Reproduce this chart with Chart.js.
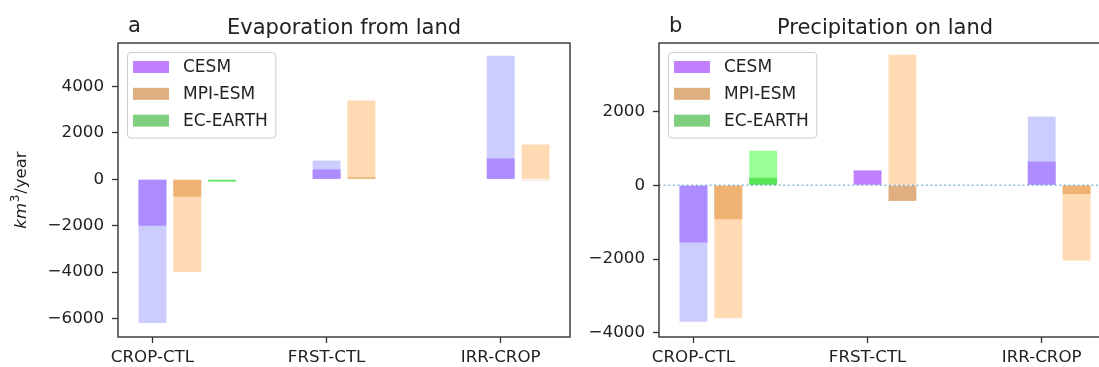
<!DOCTYPE html>
<html>
<head>
<meta charset="utf-8">
<script src="https://cdn.jsdelivr.net/npm/chart.js@4.4.1/dist/chart.umd.min.js"></script>
<style>
  html, body { margin: 0; padding: 0; background: #fff; overflow: hidden; }
  #wrap { position: relative; width: 1099px; height: 367px; overflow: hidden; }
  canvas { position: absolute; top: 0; }
  #evap { left: 0; }
  #precip { left: 541px; }
</style>
</head>
<body>
<div id="wrap">
  <canvas id="evap" width="590" height="367"></canvas>
  <canvas id="precip" width="590" height="367"></canvas>
</div>
<script>
var categories = ["CROP-CTL", "FRST-CTL", "IRR-CROP"];
var models = ["CESM", "MPI-ESM", "EC-EARTH"];

// evaporation from land, km3/year (dark bars, then the light bars over them)
var evapCESM = [-2000, 430, 900];
var evapMPI = [-750, 90, -40];
var evapEC = [-90, null, null];
var evapCESMlight = [-6200, 810, 5330];
var evapMPIlight = [-4000, 3400, 1500];
var evapEClight = [-90, null, null];

// precipitation on land, km3/year
var precCESM = [-1550, 400, 640];
var precMPI = [-920, -425, -240];
var precEC = [200, null, null];
var precCESMlight = [-3700, 0, 1860];
var precMPIlight = [-3600, 3530, -2040];
var precEClight = [930, null, null];

var evapTicks = [-6000, -4000, -2000, 0, 2000, 4000];
var precTicks = [-4000, -2000, 0, 2000];

var mainColors = ["rgba(127,0,255,0.5)", "rgba(192,96,0,0.5)", "rgba(0,160,0,0.5)"];
var lightColors = ["rgba(153,153,255,0.5)", "rgba(255,181,101,0.5)", "rgba(51,255,51,0.5)"];

var FONT = "'DejaVu Sans', sans-serif";

function points(values, j) {
  var out = [];
  values.forEach(function (v, i) {
    if (v !== null) out.push({ x: i + j * 0.2, y: v });
  });
  return out;
}

var panelDecor = {
  id: "panelDecor",
  afterDatasetsDraw: function (chart, args, opts) {
    if (!opts.zeroLine) return;
    var ctx = chart.ctx, a = chart.chartArea;
    var y = chart.scales.y.getPixelForValue(0);
    ctx.save();
    ctx.strokeStyle = "rgba(31,119,180,0.5)";
    ctx.lineWidth = 1.6;
    ctx.setLineDash([2, 2.6]);
    ctx.beginPath();
    ctx.moveTo(a.left, y);
    ctx.lineTo(a.right, y);
    ctx.stroke();
    ctx.restore();
  },
  afterDraw: function (chart, args, opts) {
    var ctx = chart.ctx, a = chart.chartArea;
    ctx.save();

    // frame
    ctx.strokeStyle = "#333";
    ctx.lineWidth = 1.4;
    ctx.strokeRect(a.left, a.top, a.right - a.left, a.bottom - a.top);

    // titles
    ctx.fillStyle = "#222";
    ctx.font = "21px " + FONT;
    ctx.textBaseline = "alphabetic";
    ctx.textAlign = "left";
    ctx.fillText(opts.letter, a.left + 10, 32);
    ctx.textAlign = "center";
    ctx.fillText(opts.title, (a.left + a.right) / 2, 33.5);

    // legend
    var items = chart.data.datasets.filter(function (d) { return d.order === 2; });
    ctx.font = "17px " + FONT;
    var tw = 0;
    items.forEach(function (d) { tw = Math.max(tw, ctx.measureText(d.label).width); });
    var bx = a.left + 9.5, by = a.top + 9.5, bw = 5.5 + 36 + 14 + tw + 8, bh = 85.5;
    ctx.beginPath();
    ctx.roundRect(bx, by, bw, bh, 3.5);
    ctx.fillStyle = "rgba(255,255,255,0.8)";
    ctx.fill();
    ctx.strokeStyle = "#cccccc";
    ctx.lineWidth = 1;
    ctx.stroke();
    ctx.textAlign = "left";
    ctx.textBaseline = "middle";
    items.forEach(function (d, k) {
      var cy = by + 14.5 + k * 26.8;
      ctx.fillStyle = d.backgroundColor;
      ctx.fillRect(bx + 5.5, cy - 6, 36, 12);
      ctx.fillStyle = "#222";
      ctx.fillText(d.label, bx + 5.5 + 36 + 14, cy + 1);
    });

    // y axis label: km^3/year
    if (opts.yLabel) {
      ctx.translate(26, (a.top + a.bottom) / 2);
      ctx.rotate(-Math.PI / 2);
      ctx.textBaseline = "alphabetic";
      ctx.textAlign = "left";
      ctx.fillStyle = "#222";
      var f1 = "italic 16.5px " + FONT, f2 = "11.5px " + FONT, f3 = "16.5px " + FONT;
      ctx.font = f1; var w1 = ctx.measureText("km").width;
      ctx.font = f2; var w2 = ctx.measureText("3").width;
      ctx.font = f3; var w3 = ctx.measureText("/year").width;
      var x0 = -(w1 + w2 + 2 + w3) / 2;
      ctx.font = f1; ctx.fillText("km", x0, 0);
      ctx.font = f2; ctx.fillText("3", x0 + w1 + 1, -7);
      ctx.font = f3; ctx.fillText("/year", x0 + w1 + w2 + 2, 0);
    }
    ctx.restore();
  }
};

function makeChart(id, mains, lights, yTicks, yMin, yMax, decor) {
  var datasets = [];
  models.forEach(function (m, j) {
    datasets.push({
      label: m,
      data: points(mains[j], j),
      backgroundColor: mainColors[j],
      borderWidth: 0,
      grouped: false,
      barPercentage: 0.8,
      categoryPercentage: 1,
      order: 2
    });
  });
  models.forEach(function (m, j) {
    datasets.push({
      label: m + " light",
      data: points(lights[j], j),
      backgroundColor: lightColors[j],
      borderWidth: 0,
      grouped: false,
      barPercentage: 0.8,
      categoryPercentage: 1,
      order: 1
    });
  });

  var tickFont = { family: FONT, size: 16.7 };

  return new Chart(document.getElementById(id).getContext("2d"), {
    type: "bar",
    data: { datasets: datasets },
    options: {
      responsive: false,
      animation: false,
      events: [],
      layout: { padding: { left: 0, right: 20, top: 43, bottom: 0 } },
      plugins: {
        legend: { display: false },
        tooltip: { enabled: false },
        panelDecor: decor
      },
      scales: {
        x: {
          type: "linear",
          min: -0.198,
          max: 2.398,
          offset: false,
          afterBuildTicks: function (s) {
            s.ticks = categories.map(function (c, i) { return { value: i }; });
          },
          afterFit: function (s) { s.height = 30; },
          ticks: {
            autoSkip: false,
            maxRotation: 0,
            padding: 5,
            color: "#222",
            font: tickFont,
            callback: function (v) { return categories[v]; }
          },
          grid: { offset: false, drawOnChartArea: false, drawTicks: true, tickLength: 6, tickWidth: 1.3, tickColor: "#333" },
          border: { display: false }
        },
        y: {
          min: yMin,
          max: yMax,
          afterBuildTicks: function (s) {
            s.ticks = yTicks.map(function (v) { return { value: v }; });
          },
          afterFit: function (s) { s.width = 118; },
          ticks: {
            padding: 8,
            color: "#222",
            font: tickFont,
            callback: function (v) { return v < 0 ? "\u2212" + Math.abs(v) : String(v); }
          },
          grid: { offset: false, drawOnChartArea: false, drawTicks: true, tickLength: 6, tickWidth: 1.3, tickColor: "#333" },
          border: { display: false }
        }
      }
    },
    plugins: [panelDecor]
  });
}

makeChart("evap",
  [evapCESM, evapMPI, evapEC],
  [evapCESMlight, evapMPIlight, evapEClight],
  evapTicks, -6800, 5880,
  { letter: "a", title: "Evaporation from land", yLabel: true, zeroLine: false });

makeChart("precip",
  [precCESM, precMPI, precEC],
  [precCESMlight, precMPIlight, precEClight],
  precTicks, -4110, 3850,
  { letter: "b", title: "Precipitation on land", yLabel: false, zeroLine: true });
</script>
</body>
</html>
